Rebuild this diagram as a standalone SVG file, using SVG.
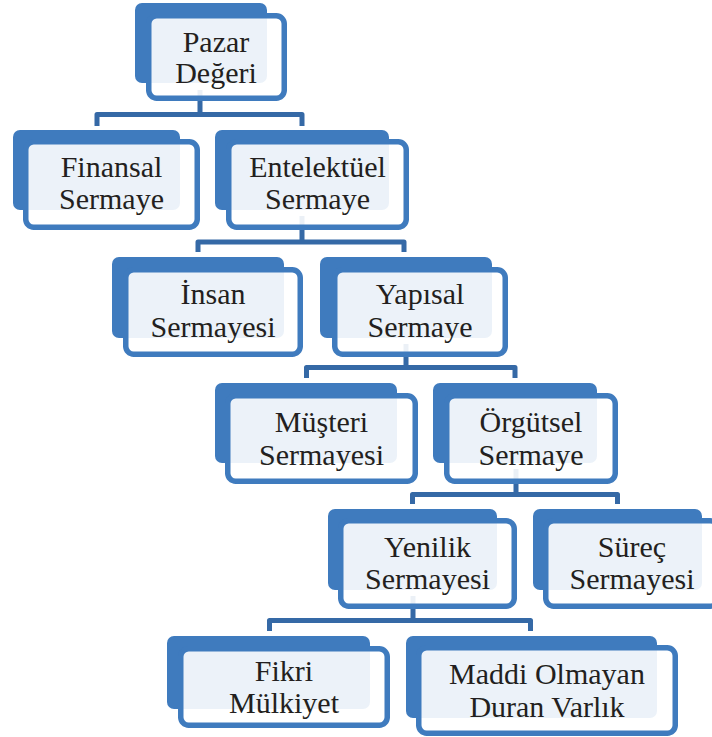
<svg xmlns="http://www.w3.org/2000/svg" width="712" height="737" viewBox="0 0 712 737">
  <style>
    .back { fill: #3F7BBE; }
    .front { fill: #FFFFFF; fill-opacity: 0.9; stroke: #3F7BBE; stroke-width: 5.5; }
    .wire { fill: none; stroke: #3569A6; stroke-width: 5; stroke-linejoin: round; }
  </style>
  <rect width="712" height="737" fill="#FFFFFF"/>

  <!-- tree connectors -->
  <g id="connectors">
    <path class="wire" d="M200 90 V114.5 M97 126 V114.5 H302 V126"/>
    <path class="wire" d="M302 216 V242 M198 252 V242 H404 V252"/>
    <path class="wire" d="M406 344 V367.5 M306.5 378 V367.5 H515 V378"/>
    <path class="wire" d="M516 469 V494.5 M412.5 504 V494.5 H617.5 V504"/>
    <path class="wire" d="M413 596 V620.5 M269.5 631 V620.5 H530.5 V631"/>
  </g>

  <g font-family="Liberation Serif, Times New Roman, serif" font-size="30" fill="#231F20" text-anchor="middle">
  <g id="pazar-degeri">
    <rect class="back" x="135" y="3" width="132" height="80" rx="7"/>
    <rect class="front" x="148.75" y="15.75" width="135.5" height="82.5" rx="8"/>
    <text x="216" y="52">Pazar</text>
    <text x="216" y="83">Değeri</text>
  </g>

  <g id="finansal-sermaye">
    <rect class="back" x="13" y="130" width="167" height="80" rx="7"/>
    <rect class="front" x="25.75" y="141.75" width="171.5" height="85.5" rx="8"/>
    <text x="111.5" y="177">Finansal</text>
    <text x="111.5" y="209">Sermaye</text>
  </g>

  <g id="entelektuel-sermaye">
    <rect class="back" x="215" y="130" width="174" height="80" rx="7"/>
    <rect class="front" x="228.75" y="141.75" width="177.5" height="85.5" rx="8"/>
    <text x="317.5" y="177">Entelektüel</text>
    <text x="317.5" y="209">Sermaye</text>
  </g>

  <g id="insan-sermayesi">
    <rect class="back" x="112" y="257" width="172" height="81" rx="7"/>
    <rect class="front" x="125.75" y="269.75" width="174.5" height="84.5" rx="8"/>
    <text x="213" y="304">İnsan</text>
    <text x="213" y="337">Sermayesi</text>
  </g>

  <g id="yapisal-sermaye">
    <rect class="back" x="320" y="257" width="172" height="81" rx="7"/>
    <rect class="front" x="334.75" y="269.75" width="170.5" height="84.5" rx="8"/>
    <text x="420" y="304">Yapısal</text>
    <text x="420" y="337">Sermaye</text>
  </g>

  <g id="musteri-sermayesi">
    <rect class="back" x="215" y="383" width="182" height="80" rx="7"/>
    <rect class="front" x="227.75" y="395.75" width="187.5" height="85.5" rx="8"/>
    <text x="321.5" y="432">Müşteri</text>
    <text x="321.5" y="465">Sermayesi</text>
  </g>

  <g id="orgutsel-sermaye">
    <rect class="back" x="433" y="383" width="164" height="80" rx="7"/>
    <rect class="front" x="446.75" y="395.75" width="168.5" height="85.5" rx="8"/>
    <text x="531" y="432">Örgütsel</text>
    <text x="531" y="465">Sermaye</text>
  </g>

  <g id="yenilik-sermayesi">
    <rect class="back" x="328" y="509" width="169" height="81" rx="7"/>
    <rect class="front" x="340.75" y="520.75" width="173.5" height="85.5" rx="8"/>
    <text x="427.5" y="557">Yenilik</text>
    <text x="427.5" y="589">Sermayesi</text>
  </g>

  <g id="surec-sermayesi">
    <rect class="back" x="533" y="509" width="169" height="81" rx="7"/>
    <rect class="front" x="545.75" y="520.75" width="172.5" height="85.5" rx="8"/>
    <text x="632" y="557">Süreç</text>
    <text x="632" y="589">Sermayesi</text>
  </g>

  <g id="fikri-mulkiyet">
    <rect class="back" x="167" y="636" width="203" height="73" rx="7"/>
    <rect class="front" x="180.75" y="648.75" width="206.5" height="76.5" rx="8"/>
    <text x="284" y="681">Fikri</text>
    <text x="284" y="713">Mülkiyet</text>
  </g>

  <g id="maddi-olmayan-duran-varlik">
    <rect class="back" x="406" y="636" width="251" height="82" rx="7"/>
    <rect class="front" x="418.75" y="647.75" width="256.5" height="85.5" rx="8"/>
    <text x="547" y="684">Maddi Olmayan</text>
    <text x="547" y="717">Duran Varlık</text>
  </g>
  </g>
</svg>
